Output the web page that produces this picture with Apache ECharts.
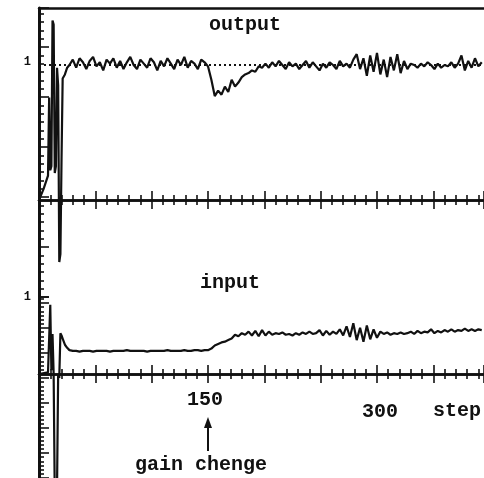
<!DOCTYPE html>
<html>
<head>
<meta charset="utf-8">
<script src="https://cdn.jsdelivr.net/npm/echarts@6/dist/echarts.min.js"></script>
<style>
  html, body { margin: 0; padding: 0; background: #fff; }
  #chart { width: 484px; height: 478px; }
</style>
</head>
<body>
<div id="chart"></div>
<script>
const INK = '#111';
const FONT = '"Liberation Mono", "DejaVu Sans Mono", monospace';

// step axis
const stepMin = 0;
const stepMax = 395;
const stepMajor = 50;
const stepLabels = [150, 300];
const SAMPLE = 3; // steady parts are read every 3 steps

// output, start-up transient
const outStartSteps  = [0, 4, 8, 9, 10, 11, 12, 13, 14, 15, 16, 17, 18, 19, 20, 21, 23, 25];
const outStartValues = [0, 0.08, 0.18, 0.76, 0.22, 0.25, 1.33, 1.30, 0.20, 0.25, 0.98, 0.85, -0.46, -0.40, 0.30, 0.90, 0.93, 0.98];

// output, from step 27 on
const outSteadyFrom = 27;
const outSteadyValues = [
  1.00, 1.04, 0.98, 1.05, 1.02, 0.97, 1.03, 1.06, 0.99, 1.02, 0.96, 1.04, 1.01, 1.05, 0.98, 1.03, 0.97, 1.02, 1.06, 1.00,
  0.97, 1.04, 1.01, 0.98, 1.05, 1.02, 0.96, 1.03, 0.99, 1.05, 1.01, 0.97, 1.04, 1.00, 1.06, 0.98, 1.03, 1.01, 0.97, 1.04,
  1.02,
  // gain change at 150
  0.99, 0.89, 0.77, 0.81, 0.78, 0.84, 0.80, 0.89, 0.84, 0.87, 0.91, 0.93, 0.94, 0.96, 0.95, 0.99, 0.98,
  1.01, 0.98, 1.02, 0.99, 1.03, 1.00, 0.97, 1.02, 0.99, 1.01, 0.97, 1.00, 1.03, 0.98, 1.02, 0.99, 0.96, 1.01, 0.98, 1.02,
  1.00, 0.97, 1.03, 0.99, 1.01, 0.98, 1.04,
  1.08, 0.97, 1.05, 0.92, 1.07, 0.95, 1.09, 0.93, 1.04, 0.91, 1.06, 0.96, 1.08, 0.94, 1.03, 0.97, 1.01,
  1.00, 0.98, 1.01, 0.99, 1.02, 1.00, 0.97, 1.01, 0.98, 1.00, 0.99, 1.02, 0.98, 1.01, 1.07, 0.96, 1.03, 0.98, 1.05, 0.99,
  1.02
];

// input, start-up transient
const inStartSteps  = [0, 8, 9, 10, 11, 12, 13, 14, 16, 17, 18, 19, 20, 21, 23, 25, 27];
const inStartValues = [0, 0.02, 0.0, 0.90, 0.05, 0.52, 0.0, -1.6, -1.5, 0.0, -0.05, 0.53, 0.50, 0.46, 0.38, 0.34, 0.31];

// input, from step 30 on
const inSteadyFrom = 30;
const inSteadyValues = [
  0.30, 0.30, 0.29, 0.30, 0.30, 0.30, 0.29, 0.30, 0.30, 0.30, 0.30, 0.29, 0.30, 0.30, 0.30, 0.30, 0.31, 0.30, 0.30, 0.30,
  0.30, 0.30, 0.29, 0.30, 0.30, 0.30, 0.30, 0.30, 0.31, 0.30, 0.30, 0.30, 0.30, 0.31, 0.30, 0.30, 0.31, 0.31, 0.30, 0.31,
  // gain change at 150
  0.31, 0.33, 0.37, 0.39, 0.41, 0.42, 0.44, 0.46, 0.51, 0.49, 0.53, 0.51, 0.55, 0.50, 0.56, 0.49, 0.57, 0.50, 0.55, 0.51,
  0.53, 0.52, 0.54, 0.51, 0.52, 0.50, 0.53, 0.51, 0.54, 0.52, 0.55, 0.52, 0.53, 0.57, 0.50, 0.56, 0.51, 0.55, 0.52, 0.58,
  0.50, 0.62, 0.48, 0.66, 0.44, 0.60, 0.42, 0.63, 0.45, 0.58, 0.47, 0.55, 0.52, 0.54, 0.51, 0.53, 0.52, 0.54, 0.52, 0.53,
  0.55, 0.52, 0.56, 0.53, 0.55, 0.54, 0.58, 0.53, 0.56, 0.54, 0.57, 0.55, 0.58, 0.55, 0.57, 0.56, 0.59, 0.56, 0.58, 0.56,
  0.58, 0.57
];

function joinSeries(steps, values, from, steady) {
  const pts = steps.map((s, i) => [s, values[i]]);
  steady.forEach((v, i) => pts.push([from + i * SAMPLE, v]));
  return pts;
}

const outputData = joinSeries(outStartSteps, outStartValues, outSteadyFrom, outSteadyValues);
const inputData = joinSeries(inStartSteps, inStartValues, inSteadyFrom, inSteadyValues);

const chart = echarts.init(document.getElementById('chart'));

function stepAxis(yIdx, inside) {
  return {
    type: 'value', gridIndex: 0, position: 'bottom', min: stepMin, max: stepMax, interval: stepMajor,
    axisLine: { onZero: true, onZeroAxisIndex: yIdx, lineStyle: { color: INK, width: 2.5 } },
    axisTick: { inside: inside, length: 9, lineStyle: { color: INK, width: 1.6 } },
    minorTick: { show: true, splitNumber: 5, length: 5, lineStyle: { color: INK, width: 1.6 } },
    splitLine: { show: false },
    axisLabel: { show: false }
  };
}

function ruler(gridIndex, max) {
  return {
    type: 'value', gridIndex: gridIndex, position: 'left', min: 0, max: max, interval: 6,
    axisLine: { onZero: false, lineStyle: { color: INK, width: 3 } },
    axisTick: { inside: true, length: 10, lineStyle: { color: INK, width: 1.6 } },
    minorTick: { show: true, splitNumber: 6, length: 5, lineStyle: { color: INK, width: 1.6 } },
    axisLabel: { show: false },
    splitLine: { show: false }
  };
}

const oneLabel = (offsetY) => ({
  show: true, position: 'start', formatter: '1', distance: 8, offset: [0, offsetY],
  color: INK, fontFamily: FONT, fontSize: 12, fontWeight: 'bold'
});

const textStyle = (text) => ({ text: text, font: 'bold 20px ' + FONT, fill: INK, align: 'center', verticalAlign: 'middle' });

chart.setOption({
  animation: false,
  backgroundColor: '#fff',
  grid: [
    { left: 39, right: 0, top: 8, bottom: 0, outerBoundsMode: 'none', containLabel: false },
    { left: 39, right: 0, top: 8, height: 289, outerBoundsMode: 'none', containLabel: false },
    { left: 39, right: 0, top: 297, bottom: 0, outerBoundsMode: 'none', containLabel: false }
  ],
  xAxis: [
    stepAxis(0, true),
    stepAxis(0, false),
    stepAxis(1, true),
    stepAxis(1, false),
    {
      type: 'value', gridIndex: 1, position: 'top', min: stepMin, max: stepMax,
      axisLine: { onZero: false, lineStyle: { color: INK, width: 2.5 } },
      axisTick: { show: false }, axisLabel: { show: false }, splitLine: { show: false }
    },
    { type: 'value', gridIndex: 2, min: stepMin, max: stepMax, show: false }
  ],
  yAxis: [
    { type: 'value', gridIndex: 0, min: -2.0593, max: 1.4222, show: false },
    { type: 'value', gridIndex: 0, min: -1.3506, max: 4.753, show: false },
    ruler(1, 34.68),
    ruler(2, 43.44)
  ],
  series: [
    {
      name: 'output', type: 'line', xAxisIndex: 0, yAxisIndex: 0,
      data: outputData, symbol: 'none', lineStyle: { color: INK, width: 2.2 },
      markLine: {
        silent: true, symbol: ['none', 'none'],
        lineStyle: { color: INK, width: 2, type: [2, 3] },
        label: oneLabel(-3),
        data: [{ yAxis: 1 }]
      }
    },
    {
      name: 'input', type: 'line', xAxisIndex: 0, yAxisIndex: 1,
      data: inputData, symbol: 'none', lineStyle: { color: INK, width: 2.2 },
      markLine: {
        silent: true, symbol: ['none', 'none'],
        lineStyle: { color: 'rgba(0,0,0,0)', width: 1 },
        label: oneLabel(0),
        data: [{ yAxis: 1 }]
      }
    }
  ]
});

// step labels under the lower axis, typed at slightly uneven heights as in the original
const axisY = chart.convertToPixel({ yAxisIndex: 1 }, 0);
const labelGraphics = stepLabels.map((v, i) => ({
  type: 'text',
  x: chart.convertToPixel({ xAxisIndex: 2 }, v) + (i === 0 ? -3 : 3),
  y: axisY + (i === 0 ? 26 : 38),
  style: textStyle(String(v))
}));
const arrowX = chart.convertToPixel({ xAxisIndex: 2 }, stepLabels[0]);

chart.setOption({
  graphic: labelGraphics.concat([
    { type: 'text', x: 245, y: 25, style: textStyle('output') },
    { type: 'text', x: 230, y: 283, style: textStyle('input') },
    { type: 'text', x: 457, y: 411, style: textStyle('step') },
    { type: 'text', x: 201, y: 465, style: textStyle('gain chenge') },
    { type: 'line', shape: { x1: arrowX, y1: 424, x2: arrowX, y2: 451 }, style: { stroke: INK, lineWidth: 2 } },
    { type: 'polygon', shape: { points: [[arrowX, 417], [arrowX - 4, 428], [arrowX + 4, 428]] }, style: { fill: INK } }
  ])
});
</script>
</body>
</html>
